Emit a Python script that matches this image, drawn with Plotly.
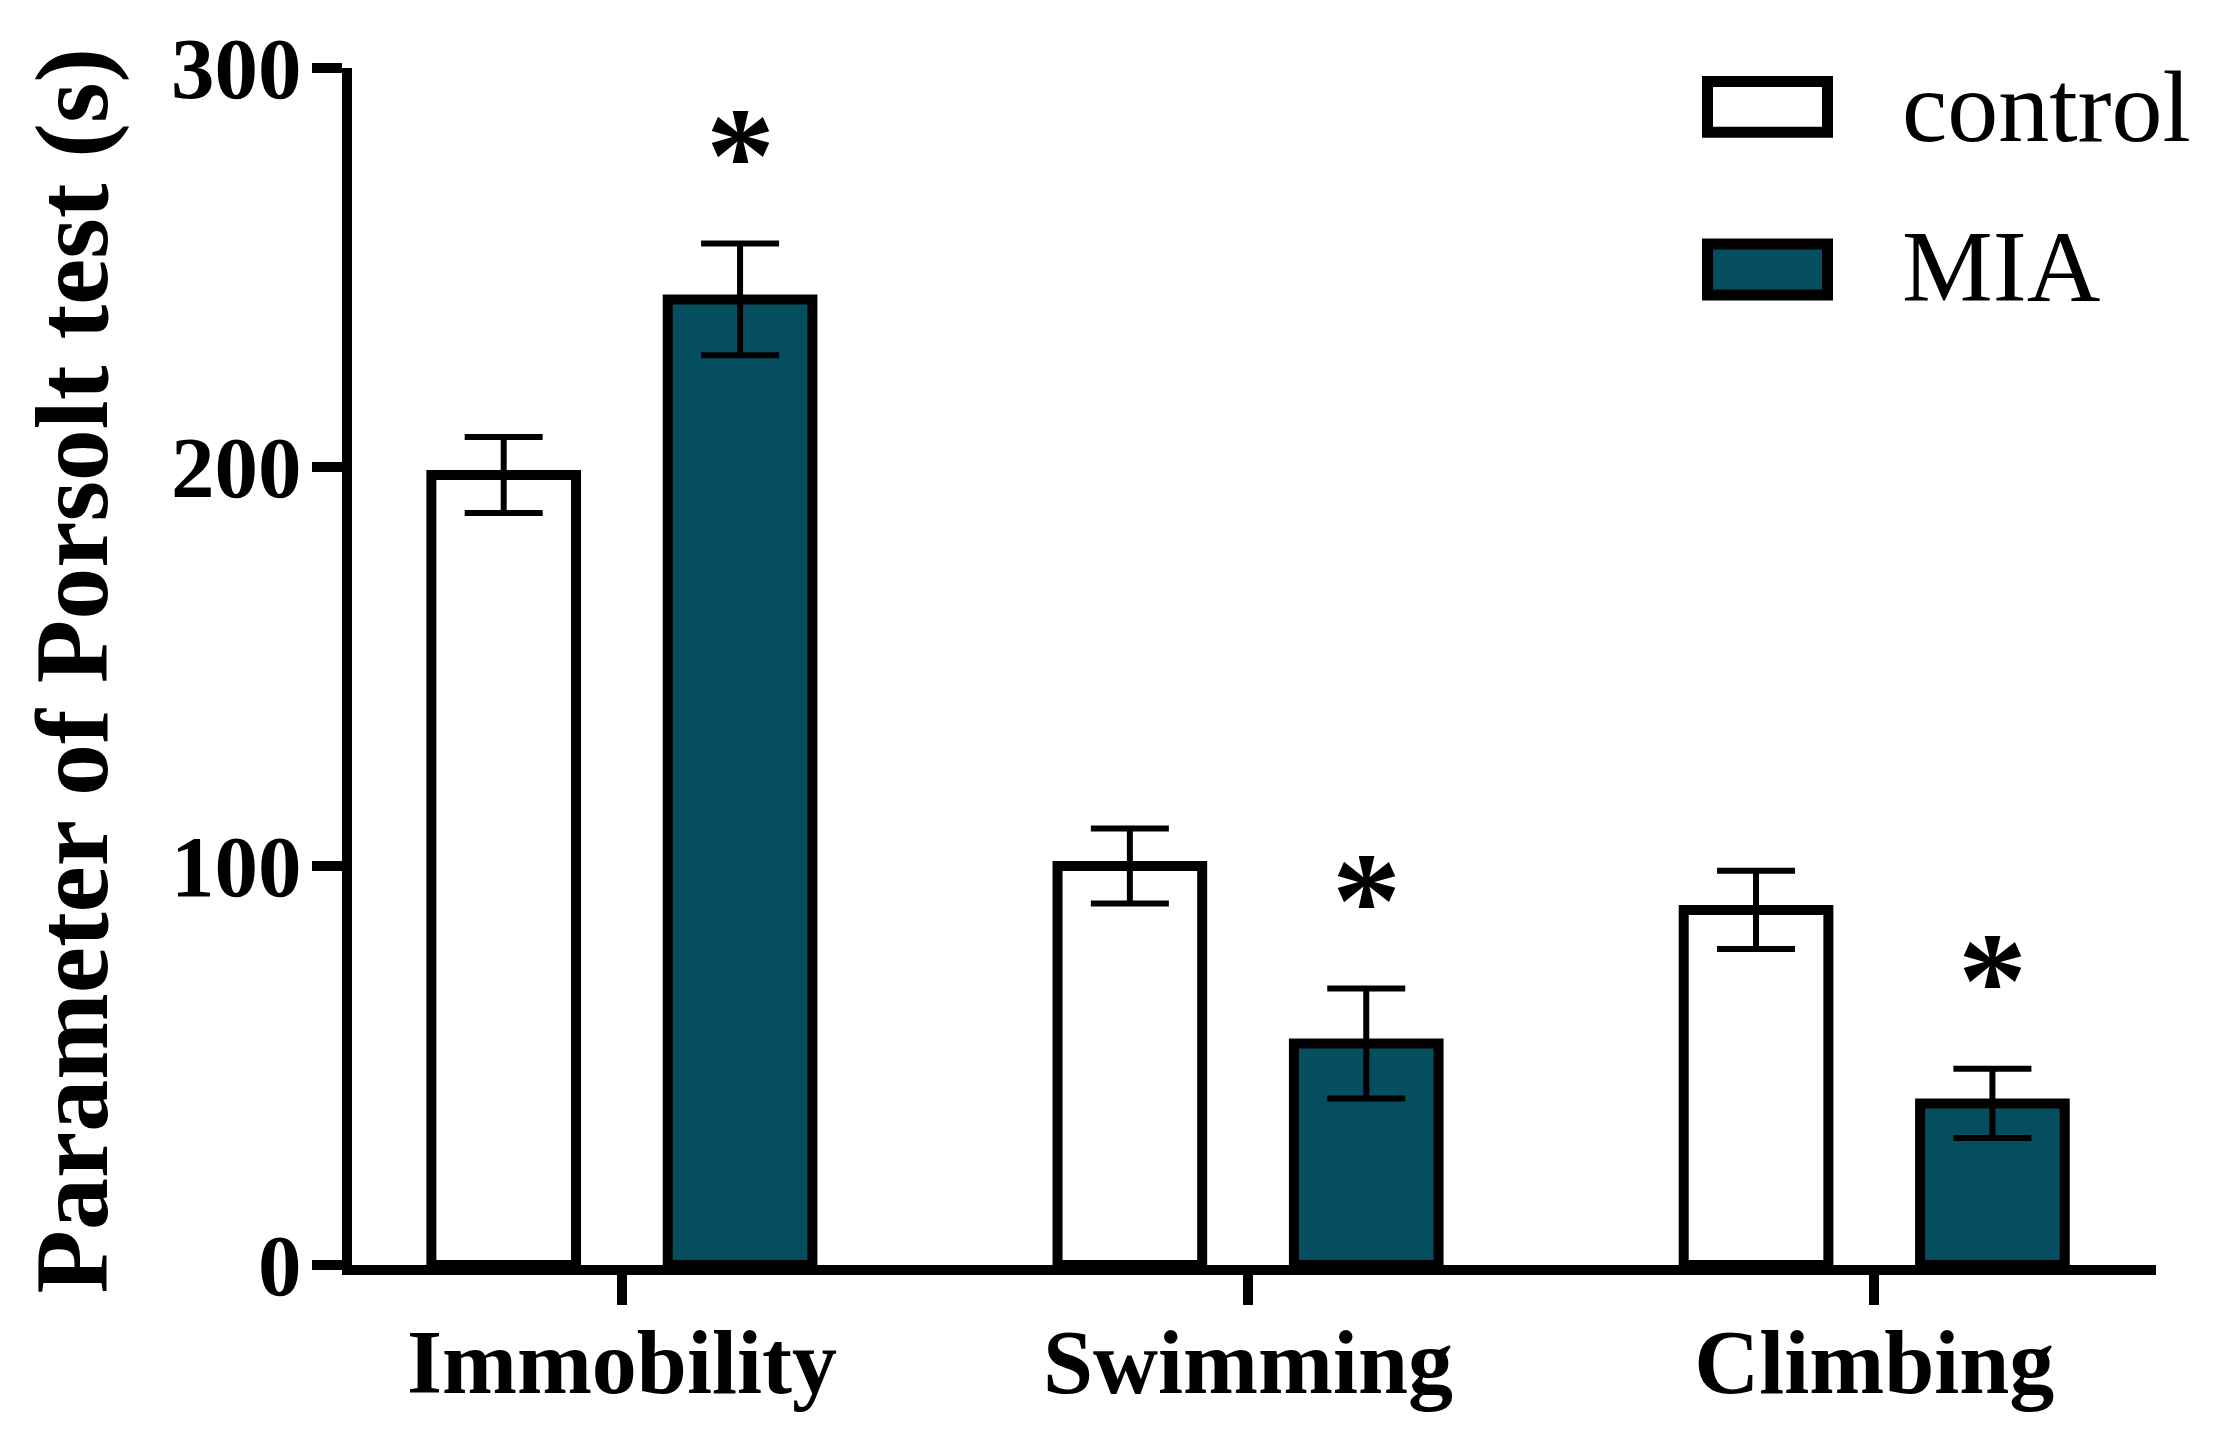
import plotly.graph_objects as go

# ---- data ----
categories = ["Immobility", "Swimming", "Climbing"]
series_names = ["control", "MIA"]
control_mean = [198, 100, 89]
control_sem = [9.5, 9.4, 9.8]
mia_mean = [242, 55.5, 40.5]
mia_sem = [14, 13.8, 8.7]
mia_significant = [True, True, True]
y_ticks = [0, 100, 200, 300]
y_title = "Parameter of Porsolt test (s)"

# ---- style ----
PAGE_OFF = 8  # default body margin of the html page
W, H = 2225 - 2 * PAGE_OFF, 1441 - 2 * PAGE_OFF
L, R, T, B = 352 - PAGE_OFF, 2156 - PAGE_OFF, 65 - PAGE_OFF, 1265 - PAGE_OFF
TEAL = "#044E5F"
FONT = "Liberation Serif"
BARGAP = 0.245
BARGROUPGAP = 0.388
LW = 10

def pxx(p):  # screen pixel -> paper x
    return (p - PAGE_OFF - L) / (R - L)

def pxy(p):  # screen pixel -> paper y
    return (B - (p - PAGE_OFF)) / (B - T)

fig = go.Figure()
fig.add_trace(go.Bar(
    x=categories, y=control_mean, name=series_names[0],
    marker=dict(color="white", line=dict(color="black", width=LW)),
    error_y=dict(type="data", array=control_sem, color="black", thickness=6, width=39),
))
fig.add_trace(go.Bar(
    x=categories, y=mia_mean, name=series_names[1],
    marker=dict(color=TEAL, line=dict(color="black", width=LW)),
    error_y=dict(type="data", array=mia_sem, color="black", thickness=6, width=39),
))

# significance asterisks
offset = (1 - BARGAP) / 4
for i, (m, s, sig) in enumerate(zip(mia_mean, mia_sem, mia_significant)):
    if sig:
        fig.add_annotation(
            x=i + offset, y=m + s + 26, xref="x", yref="y", text="*",
            showarrow=False, yshift=-16,
            font=dict(family=FONT, size=138, color="black", weight="bold"),
        )

# y-axis title
fig.add_annotation(
    x=pxx(72), y=pxy(669), xref="paper", yref="paper", text=y_title,
    textangle=-90, showarrow=False, xanchor="center", yanchor="middle",
    font=dict(family=FONT, size=104, color="black", weight="bold"),
)

# legend (drawn manually for large swatches)
legend_rows = [(series_names[0], "white", 78.5, 129.5, 104),
               (series_names[1], TEAL, 241.5, 292.5, 264)]
for name, col, y0, y1, yc in legend_rows:
    fig.add_shape(type="rect", xref="paper", yref="paper",
                  x0=pxx(1707.5), x1=pxx(1827.5), y0=pxy(y1), y1=pxy(y0),
                  fillcolor=col, line=dict(color="black", width=11))
    fig.add_annotation(x=pxx(1900), y=pxy(yc), xref="paper", yref="paper",
                       text=name, showarrow=False, xanchor="left", yanchor="middle",
                       font=dict(family=FONT, size=102, color="black"))

fig.update_layout(
    width=W, height=H,
    margin=dict(l=L, r=W - R, t=T, b=H - B, pad=0),
    paper_bgcolor="white", plot_bgcolor="white",
    barmode="group", bargap=BARGAP, bargroupgap=BARGROUPGAP,
    showlegend=False,
    xaxis=dict(
        range=[-0.431, 2.45], showgrid=False, zeroline=False,
        showline=True, linecolor="black", linewidth=LW,
        ticks="outside", ticklen=30, tickwidth=LW, tickcolor="black",
        ticklabelstandoff=-20,
        tickfont=dict(family=FONT, size=90, color="black", weight="bold"),
    ),
    yaxis=dict(
        range=[0, 300], tickvals=y_ticks, showgrid=False, zeroline=False,
        showline=True, linecolor="black", linewidth=LW,
        ticks="outside", ticklen=30, tickwidth=LW, tickcolor="black",
        ticklabelstandoff=-7,
        tickfont=dict(family=FONT, size=87, color="black", weight="bold"),
    ),
)

fig.write_html("out.html")
